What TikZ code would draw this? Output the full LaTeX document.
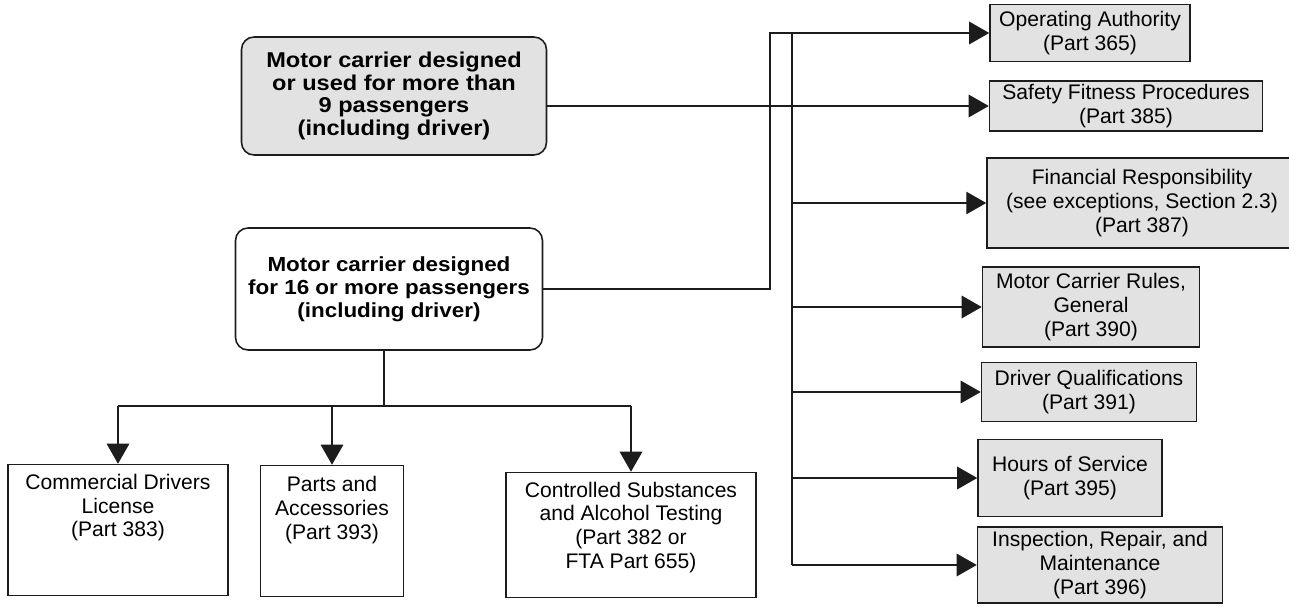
\documentclass[tikz,border=0pt]{standalone}
\usepackage{fontspec}
\setmainfont{Liberation Sans}
\newfontfamily\widesans[FakeStretch=1.1]{Liberation Sans}
\usepackage{xcolor}
\usetikzlibrary{arrows.meta}
\definecolor{fmgray}{HTML}{E2E2E2}
\definecolor{fmink}{HTML}{1C1C1C}

\begin{document}
\begin{tikzpicture}[x=0.02cm, y=-0.02cm,
  link/.style={draw=fmink, line width=0.8pt},
  arr/.style={link, -{Triangle[length=0.4cm, width=0.45cm]}},
  carrier/.style={draw=fmink, line width=0.9pt, rounded corners=0.25cm, align=center, inner sep=2pt, font=\widesans\fontsize{12.2}{12.8}\selectfont\bfseries},
  rulebox/.style={draw=fmink, line width=0.9pt, fill=fmgray, align=center, inner sep=2pt, font=\fontsize{12}{13.5}\selectfont},
  partbox/.style={draw=fmink, line width=0.9pt, fill=white, align=center, inner sep=2pt, font=\fontsize{12}{13.5}\selectfont}]
  \useasboundingbox (0,0) rectangle (1289,607);
  \node[carrier, fill=fmgray, minimum width=6.1cm, minimum height=2.36cm] (nine) at (394,96) {Motor carrier designed\\or used for more than\\9 passengers\\(including driver)};
  \node[carrier, fill=white, minimum width=6.14cm, minimum height=2.44cm, font=\widesans\fontsize{11.6}{13}\selectfont\bfseries] (sixteen) at (389,289) {Motor carrier designed\\for 16 or more passengers\\(including driver)};
  \node[rulebox, minimum width=4cm, minimum height=1.14cm] (p365) at (1090,33) {Operating Authority\\(Part 365)};
  \node[rulebox, minimum width=5.46cm, minimum height=1cm] (p385) at (1126,106) {Safety Fitness Procedures\\(Part 385)};
  \node[rulebox, minimum width=6.2cm, minimum height=1.8cm] (p387) at (1142,203) {Financial Responsibility\\(see exceptions, Section 2.3)\\(Part 387)};
  \node[rulebox, minimum width=4.34cm, minimum height=1.6cm] (p390) at (1091,307) {Motor Carrier Rules,\\General\\(Part 390)};
  \node[rulebox, minimum width=4.3cm, minimum height=1.18cm] (p391) at (1089,392) {Driver Qualifications\\(Part 391)};
  \node[rulebox, minimum width=3.68cm, minimum height=1.54cm] (p395) at (1070,478) {Hours of Service\\(Part 395)};
  \node[rulebox, minimum width=4.9cm, minimum height=1.52cm] (p396) at (1100,565) {Inspection, Repair, and\\Maintenance\\(Part 396)};
  \node[partbox, minimum width=4.4cm, minimum height=2.62cm] (p383) at (118,530) {Commercial Drivers\\License\\(Part 383)\\[0.5cm]\mbox{}};
  \node[partbox, minimum width=2.86cm, minimum height=2.62cm] (p393) at (332,531) {Parts and\\Accessories\\(Part 393)\\[0.45cm]\mbox{}};
  \node[partbox, minimum width=5cm, minimum height=2.5cm] (p382) at (631,535) {Controlled Substances\\and Alcohol Testing\\(Part 382 or\\FTA Part 655)\\[-0.08cm]\mbox{}};
  \coordinate (upA) at (770,33);
  \coordinate (upB) at (792,33);
  \coordinate (fork) at (384,406);
  \draw[arr] (nine.east |- p385.west) -- (p385.west);
  \draw[arr] (sixteen.east) -| (upA) -- (p365.west);
  \draw[link] (upB) -- (upB |- p396.west);
  \foreach \p in {p387,p390,p391,p395,p396}
    \draw[arr] (upB |- \p.west) -- (\p.west);
  \draw[link] (sixteen.south -| fork) -- (fork);
  \draw[link] (fork -| p383.north) -- (fork -| p382.north);
  \foreach \p in {p383,p393,p382}
    \draw[arr] (fork -| \p.north) -- (\p.north);
\end{tikzpicture}
\end{document}
